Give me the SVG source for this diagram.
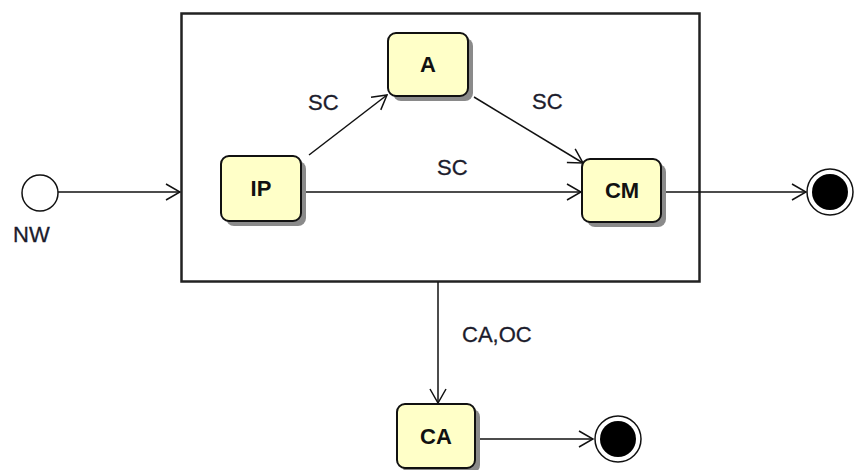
<svg xmlns="http://www.w3.org/2000/svg" width="855" height="470" viewBox="0 0 855 470">
  <defs>
    <style>
      .state rect.body { fill: #ffffc8; stroke: #111; stroke-width: 2; }
      .state rect.shadow { fill: #8a8a8a; }
      .state text { font-family: "Liberation Sans", Arial, sans-serif; font-size: 22px; font-weight: bold; fill: #111; text-anchor: middle; }
      .edge { fill: none; stroke: #111; stroke-width: 1.5; }
      .label { font-family: "Liberation Sans", Arial, sans-serif; font-size: 22px; fill: #1c1c2c; stroke: #1c1c2c; stroke-width: 0.3; }
      .container { fill: #fff; stroke: #222; stroke-width: 2.5; }
    </style>
    <marker id="open" viewBox="0 0 16 18" refX="15" refY="9" markerWidth="16" markerHeight="18" markerUnits="userSpaceOnUse" orient="auto">
      <path d="M1,1 L15,9 L1,17" fill="none" stroke="#111" stroke-width="1.5"/>
    </marker>
  </defs>

  <rect width="855" height="470" fill="#fff"/>

  <!-- composite state -->
  <g id="composite">
    <rect class="container" x="181.5" y="13.5" width="518" height="268"/>
  </g>

  <!-- transitions -->
  <g id="connectors">
    <line class="edge" x1="58" y1="192" x2="180" y2="192" marker-end="url(#open)"/>
    <line class="edge" x1="309" y1="155" x2="387" y2="95" marker-end="url(#open)"/>
    <line class="edge" x1="474" y1="97" x2="583" y2="163" marker-end="url(#open)"/>
    <line class="edge" x1="301" y1="192" x2="581" y2="192" marker-end="url(#open)"/>
    <line class="edge" x1="661" y1="192" x2="806" y2="192" marker-end="url(#open)"/>
    <line class="edge" x1="438" y1="282" x2="438" y2="403" marker-end="url(#open)"/>
    <line class="edge" x1="475" y1="439" x2="593" y2="439" marker-end="url(#open)"/>
    <text class="label" x="308" y="110">SC</text>
    <text class="label" x="532" y="109">SC</text>
    <text class="label" x="437" y="175">SC</text>
    <text class="label" x="462" y="342">CA,OC</text>
  </g>

  <!-- initial state -->
  <g id="NW">
    <circle cx="40" cy="193" r="18" fill="#fff" stroke="#111" stroke-width="1.5"/>
    <text class="label" x="13" y="242">NW</text>
  </g>

  <g id="A" class="state">
    <rect class="shadow" x="393" y="38" width="80" height="63" rx="8"/>
    <rect class="body" x="388" y="33" width="80" height="63" rx="8"/>
    <text x="428" y="72">A</text>
  </g>

  <g id="IP" class="state">
    <rect class="shadow" x="226" y="161" width="80" height="65" rx="8"/>
    <rect class="body" x="221" y="156" width="80" height="65" rx="8"/>
    <text x="261" y="196">IP</text>
  </g>

  <g id="CM" class="state">
    <rect class="shadow" x="587" y="164" width="79" height="63" rx="8"/>
    <rect class="body" x="582" y="159" width="79" height="63" rx="8"/>
    <text x="622" y="198">CM</text>
  </g>

  <g id="CA" class="state">
    <rect class="shadow" x="402" y="409" width="78" height="64" rx="8"/>
    <rect class="body" x="397" y="404" width="78" height="64" rx="8"/>
    <text x="436" y="444">CA</text>
  </g>

  <!-- final states -->
  <g id="final1">
    <circle cx="830" cy="192" r="23" fill="#fff" stroke="#111" stroke-width="1.5"/>
    <circle cx="830" cy="192" r="18" fill="#000"/>
  </g>
  <g id="final2">
    <circle cx="618" cy="439" r="23" fill="#fff" stroke="#111" stroke-width="1.5"/>
    <circle cx="618" cy="439" r="18" fill="#000"/>
  </g>
</svg>
